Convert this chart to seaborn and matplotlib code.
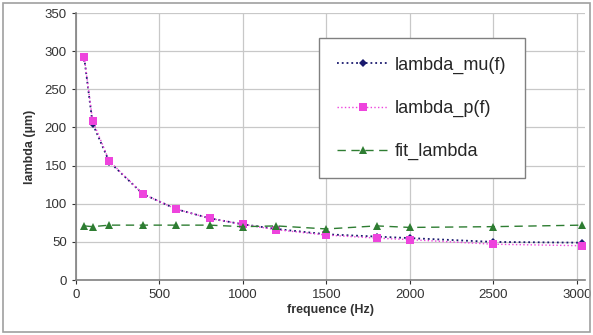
import numpy as np
import pandas as pd
import matplotlib
matplotlib.use("Agg")
import matplotlib.pyplot as plt
import seaborn as sns
from matplotlib.patches import Rectangle

# --- DONNEES ---
freq = [50, 100, 200, 400, 600, 800, 1000, 1200, 1500, 1800, 2000, 2500, 3030]
lambda_mu = [291, 205, 155, 113, 93, 81, 73, 67, 60, 57, 55, 50, 49]
lambda_p = [292, 209, 156, 113, 93, 81, 73, 66, 59, 55, 53, 47, 45]
fit_lambda = [71, 70, 72, 72, 72, 72, 70, 71, 67, 71, 69, 70, 72]

x_ticks = [0, 500, 1000, 1500, 2000, 2500, 3000]
y_ticks = [0, 50, 100, 150, 200, 250, 300, 350]

sns.set_style("whitegrid")
plt.rcParams['font.family'] = ['Liberation Sans', 'DejaVu Sans']

fig = plt.figure(figsize=(5.93, 3.35), dpi=100)
ax = fig.add_axes([0.128, 0.164, 0.859, 0.797])

# cadre gris autour du graphique
fig.patches.append(Rectangle((0.005, 0.008), 0.99, 0.984, transform=fig.transFigure,
                             fill=False, edgecolor="#a0a0a0", linewidth=1.2))

sns.lineplot(x=freq, y=lambda_mu, ax=ax, color="#1a1a6e", linestyle=":", linewidth=1.3,
             marker="D", markersize=4, markeredgewidth=0, label="lambda_mu(f)")
sns.lineplot(x=freq, y=lambda_p, ax=ax, color="#ee44dd", linestyle=":", linewidth=1.0,
             marker="s", markersize=6, markeredgewidth=0, label="lambda_p(f)")
sns.lineplot(x=freq, y=fit_lambda, ax=ax, color="#2e7d32", linestyle=(0, (6, 4)), linewidth=1.0,
             marker="^", markersize=6, markeredgewidth=0, label="fit_lambda")

ax.set_xlim(0, 3050)
ax.set_ylim(0, 350)
ax.set_xticks(x_ticks)
ax.set_yticks(y_ticks)
ax.grid(True, color="#c8c8c8", linewidth=0.9)
for side in ["top", "right"]:
    ax.spines[side].set_visible(False)
for side in ["left", "bottom"]:
    ax.spines[side].set_color("#808080")
    ax.spines[side].set_linewidth(1.2)
ax.tick_params(axis="both", labelsize=9.5, colors="#333333", length=3, direction="out",
               left=True, bottom=True)
ax.set_xlabel("frequence (Hz)", fontsize=9, fontweight="bold", color="#333333", labelpad=2)
ax.set_ylabel("lambda (µm)", fontsize=9, fontweight="bold", color="#333333", labelpad=6)

leg = ax.legend(loc="upper left", bbox_to_anchor=(0.478, 0.905), fontsize=13,
                frameon=True, fancybox=False, framealpha=1, edgecolor="#808080",
                labelspacing=1.45, borderpad=1.0, handlelength=2.8, handletextpad=0.4,
                borderaxespad=0)
leg.get_frame().set_linewidth(1.0)

fig.savefig("out.png", dpi=100)
